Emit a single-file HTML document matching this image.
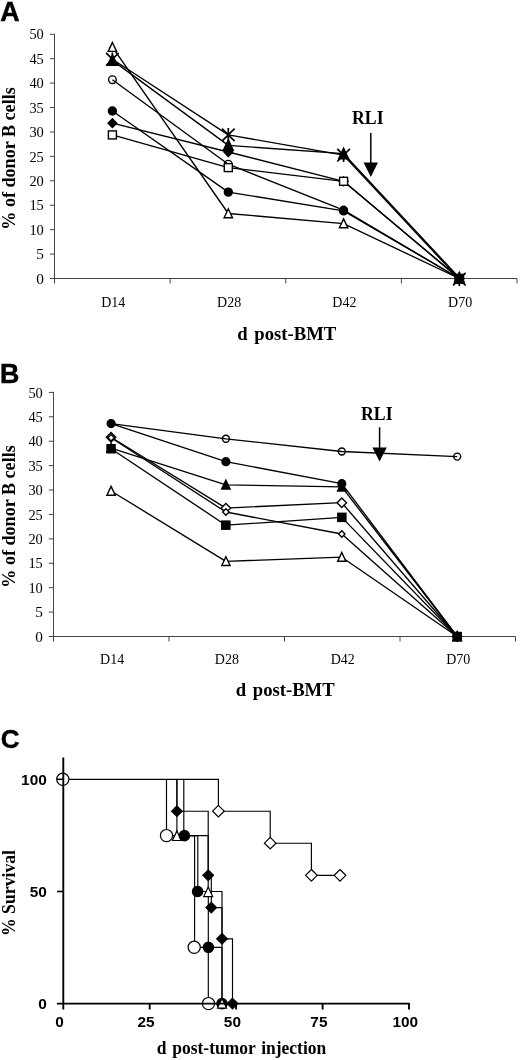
<!DOCTYPE html>
<html><head><meta charset="utf-8"><title>Figure</title>
<style>
html,body{margin:0;padding:0;background:#fff;}
body{width:520px;height:1060px;overflow:hidden;}
svg{display:block;}
</style></head>
<body>
<svg width="520" height="1060" viewBox="0 0 520 1060">
<rect width="520" height="1060" fill="#fff"/>
<g stroke="#444" stroke-width="1" fill="none">
<line x1="54.5" y1="33.8" x2="54.5" y2="283.5"/>
<line x1="49.8" y1="278.5" x2="517.0" y2="278.5"/>
<line x1="49.8" y1="254.08" x2="54.5" y2="254.08"/>
<line x1="49.8" y1="229.66" x2="54.5" y2="229.66"/>
<line x1="49.8" y1="205.24" x2="54.5" y2="205.24"/>
<line x1="49.8" y1="180.82" x2="54.5" y2="180.82"/>
<line x1="49.8" y1="156.40" x2="54.5" y2="156.40"/>
<line x1="49.8" y1="131.98" x2="54.5" y2="131.98"/>
<line x1="49.8" y1="107.56" x2="54.5" y2="107.56"/>
<line x1="49.8" y1="83.14" x2="54.5" y2="83.14"/>
<line x1="49.8" y1="58.72" x2="54.5" y2="58.72"/>
<line x1="49.8" y1="34.30" x2="54.5" y2="34.30"/>
<line x1="170.12" y1="278.5" x2="170.12" y2="283.5"/>
<line x1="285.75" y1="278.5" x2="285.75" y2="283.5"/>
<line x1="401.38" y1="278.5" x2="401.38" y2="283.5"/>
<line x1="517.00" y1="278.5" x2="517.00" y2="283.5"/>
</g>
<g font-family="'Liberation Serif',serif" font-size="15.3" fill="#000" text-anchor="end">
<text x="43.8" y="283.6">0</text>
<text x="43.8" y="259.2">5</text>
<text x="43.8" y="234.8" textLength="14.4" lengthAdjust="spacingAndGlyphs">10</text>
<text x="43.8" y="210.3" textLength="14.4" lengthAdjust="spacingAndGlyphs">15</text>
<text x="43.8" y="185.9" textLength="14.4" lengthAdjust="spacingAndGlyphs">20</text>
<text x="43.8" y="161.5" textLength="14.4" lengthAdjust="spacingAndGlyphs">25</text>
<text x="43.8" y="137.1" textLength="14.4" lengthAdjust="spacingAndGlyphs">30</text>
<text x="43.8" y="112.7" textLength="14.4" lengthAdjust="spacingAndGlyphs">35</text>
<text x="43.8" y="88.2" textLength="14.4" lengthAdjust="spacingAndGlyphs">40</text>
<text x="43.8" y="63.8" textLength="14.4" lengthAdjust="spacingAndGlyphs">45</text>
<text x="43.8" y="39.4" textLength="14.4" lengthAdjust="spacingAndGlyphs">50</text>
</g>
<g font-family="'Liberation Serif',serif" font-size="15.3" fill="#000" text-anchor="middle">
<text x="113.2" y="307" textLength="24.1" lengthAdjust="spacingAndGlyphs">D14</text>
<text x="229.1" y="307" textLength="24.1" lengthAdjust="spacingAndGlyphs">D28</text>
<text x="344.4" y="307" textLength="24.1" lengthAdjust="spacingAndGlyphs">D42</text>
<text x="460.1" y="307" textLength="24.1" lengthAdjust="spacingAndGlyphs">D70</text>
</g>
<text x="286.8" y="339.6" font-family="'Liberation Serif',serif" font-weight="bold" font-size="18.6" text-anchor="middle" textLength="99" lengthAdjust="spacingAndGlyphs" word-spacing="2">d post-BMT</text>
<text transform="translate(14.6,158.5) rotate(-90)" font-family="'Liberation Serif',serif" font-weight="bold" font-size="19" text-anchor="middle" textLength="142.5" lengthAdjust="spacingAndGlyphs">% of donor B cells</text>
<text x="0.2" y="20.6" font-family="'Liberation Sans',sans-serif" font-weight="bold" font-size="26.8" stroke="#000" stroke-width="0.5">A</text>
<g stroke="#000" stroke-width="1.35" fill="none" stroke-linejoin="round">
<polyline points="112.4,47.2 228.3,213.5 343.6,223.6 459.3,278.5"/>
<polyline points="112.4,79.7 228.3,164.2 343.6,210.1 459.3,278.5"/>
<polyline points="112.4,111.0 228.3,192.1 343.6,210.9 459.3,278.5"/>
<polyline points="112.4,123.2 228.3,152.0 343.6,181.3 459.3,278.5"/>
<polyline points="112.4,134.9 228.3,167.6 343.6,181.3 459.3,278.5"/>
<polyline points="112.4,60.4 228.3,145.4 343.6,153.7 459.3,277.8"/>
<polyline points="112.4,59.2 228.3,134.9 343.6,155.2 459.3,279.2"/>
</g>
<polygon points="112.4,42.5 116.6,51.4 108.2,51.4" fill="#fff" stroke="#000" stroke-width="1.4"/>
<polygon points="228.3,208.8 232.5,217.7 224.1,217.7" fill="#fff" stroke="#000" stroke-width="1.4"/>
<polygon points="343.6,218.9 347.8,227.8 339.4,227.8" fill="#fff" stroke="#000" stroke-width="1.4"/>
<polygon points="459.3,273.8 463.5,282.7 455.1,282.7" fill="#fff" stroke="#000" stroke-width="1.4"/>
<circle cx="112.4" cy="79.7" r="3.8" fill="none" stroke="#000" stroke-width="1.4"/>
<circle cx="228.3" cy="164.2" r="3.8" fill="none" stroke="#000" stroke-width="1.4"/>
<circle cx="343.6" cy="210.1" r="3.8" fill="none" stroke="#000" stroke-width="1.4"/>
<circle cx="459.3" cy="278.5" r="3.8" fill="none" stroke="#000" stroke-width="1.4"/>
<circle cx="112.4" cy="111.0" r="4.0" fill="#000" stroke="#000" stroke-width="1.4"/>
<circle cx="228.3" cy="192.1" r="4.0" fill="#000" stroke="#000" stroke-width="1.4"/>
<circle cx="343.6" cy="210.9" r="4.0" fill="#000" stroke="#000" stroke-width="1.4"/>
<circle cx="459.3" cy="278.5" r="4.0" fill="#000" stroke="#000" stroke-width="1.4"/>
<polygon points="112.4,118.8 116.8,123.2 112.4,127.5 108.1,123.2" fill="#000" stroke="#000" stroke-width="1.4"/>
<polygon points="228.3,147.7 232.7,152.0 228.3,156.4 224.0,152.0" fill="#000" stroke="#000" stroke-width="1.4"/>
<polygon points="343.6,177.0 348.0,181.3 343.6,185.7 339.2,181.3" fill="#000" stroke="#000" stroke-width="1.4"/>
<polygon points="459.3,274.1 463.7,278.5 459.3,282.9 454.9,278.5" fill="#000" stroke="#000" stroke-width="1.4"/>
<rect x="108.4" y="130.9" width="8.0" height="8.0" fill="#fff" stroke="#000" stroke-width="1.4"/>
<rect x="224.3" y="163.6" width="8.0" height="8.0" fill="#fff" stroke="#000" stroke-width="1.4"/>
<rect x="339.6" y="177.3" width="8.0" height="8.0" fill="#fff" stroke="#000" stroke-width="1.4"/>
<rect x="455.3" y="274.5" width="8.0" height="8.0" fill="#fff" stroke="#000" stroke-width="1.4"/>
<rect x="455.1" y="274.6" width="8.5" height="8.5" fill="#000" stroke="#000" stroke-width="1.3"/>
<polygon points="112.4,54.9 117.4,65.4 107.4,65.4" fill="#000" stroke="#000" stroke-width="1.4"/>
<polygon points="228.3,139.9 233.3,150.4 223.3,150.4" fill="#000" stroke="#000" stroke-width="1.4"/>
<polygon points="343.6,148.2 348.6,158.7 338.6,158.7" fill="#000" stroke="#000" stroke-width="1.4"/>
<polygon points="459.3,272.3 464.3,282.8 454.3,282.8" fill="#000" stroke="#000" stroke-width="1.4"/>
<path d="M106.1,52.9L118.7,65.5M106.1,65.5L118.7,52.9M112.4,52.4L112.4,66.0" fill="none" stroke="#000" stroke-width="1.7"/>
<path d="M222.0,128.6L234.6,141.2M222.0,141.2L234.6,128.6M228.3,128.1L228.3,141.7" fill="none" stroke="#000" stroke-width="1.7"/>
<path d="M337.3,148.9L349.9,161.5M337.3,161.5L349.9,148.9M343.6,148.4L343.6,162.0" fill="none" stroke="#000" stroke-width="1.7"/>
<path d="M453.0,272.9L465.6,285.5M453.0,285.5L465.6,272.9M459.3,272.4L459.3,286.0" fill="none" stroke="#000" stroke-width="1.7"/>
<text x="367.8" y="124.1" font-family="'Liberation Serif',serif" font-weight="bold" font-size="17.8" text-anchor="middle" textLength="31.5" lengthAdjust="spacingAndGlyphs">RLI</text>
<line x1="370.8" y1="133" x2="370.8" y2="163.6" stroke="#000" stroke-width="1.5"/>
<polygon points="363.6,162.6 378.0,162.6 370.8,177" fill="#000"/>
<g stroke="#444" stroke-width="1" fill="none">
<line x1="53.5" y1="391.9" x2="53.5" y2="641.5"/>
<line x1="48.8" y1="636.5" x2="515.5" y2="636.5"/>
<line x1="48.8" y1="612.09" x2="53.5" y2="612.09"/>
<line x1="48.8" y1="587.68" x2="53.5" y2="587.68"/>
<line x1="48.8" y1="563.27" x2="53.5" y2="563.27"/>
<line x1="48.8" y1="538.86" x2="53.5" y2="538.86"/>
<line x1="48.8" y1="514.45" x2="53.5" y2="514.45"/>
<line x1="48.8" y1="490.04" x2="53.5" y2="490.04"/>
<line x1="48.8" y1="465.63" x2="53.5" y2="465.63"/>
<line x1="48.8" y1="441.22" x2="53.5" y2="441.22"/>
<line x1="48.8" y1="416.81" x2="53.5" y2="416.81"/>
<line x1="48.8" y1="392.40" x2="53.5" y2="392.40"/>
<line x1="169.00" y1="636.5" x2="169.00" y2="641.5"/>
<line x1="284.50" y1="636.5" x2="284.50" y2="641.5"/>
<line x1="400.00" y1="636.5" x2="400.00" y2="641.5"/>
<line x1="515.50" y1="636.5" x2="515.50" y2="641.5"/>
</g>
<g font-family="'Liberation Serif',serif" font-size="15.3" fill="#000" text-anchor="end">
<text x="42.8" y="641.6">0</text>
<text x="42.8" y="617.2">5</text>
<text x="42.8" y="592.8" textLength="14.4" lengthAdjust="spacingAndGlyphs">10</text>
<text x="42.8" y="568.4" textLength="14.4" lengthAdjust="spacingAndGlyphs">15</text>
<text x="42.8" y="544.0" textLength="14.4" lengthAdjust="spacingAndGlyphs">20</text>
<text x="42.8" y="519.6" textLength="14.4" lengthAdjust="spacingAndGlyphs">25</text>
<text x="42.8" y="495.1" textLength="14.4" lengthAdjust="spacingAndGlyphs">30</text>
<text x="42.8" y="470.7" textLength="14.4" lengthAdjust="spacingAndGlyphs">35</text>
<text x="42.8" y="446.3" textLength="14.4" lengthAdjust="spacingAndGlyphs">40</text>
<text x="42.8" y="421.9" textLength="14.4" lengthAdjust="spacingAndGlyphs">45</text>
<text x="42.8" y="397.5" textLength="14.4" lengthAdjust="spacingAndGlyphs">50</text>
</g>
<g font-family="'Liberation Serif',serif" font-size="15.3" fill="#000" text-anchor="middle">
<text x="112.1" y="664.2" textLength="24.1" lengthAdjust="spacingAndGlyphs">D14</text>
<text x="226.9" y="664.2" textLength="24.1" lengthAdjust="spacingAndGlyphs">D28</text>
<text x="342.8" y="664.2" textLength="24.1" lengthAdjust="spacingAndGlyphs">D42</text>
<text x="458.2" y="664.2" textLength="24.1" lengthAdjust="spacingAndGlyphs">D70</text>
</g>
<text x="285.2" y="695.8" font-family="'Liberation Serif',serif" font-weight="bold" font-size="18.6" text-anchor="middle" textLength="99" lengthAdjust="spacingAndGlyphs" word-spacing="2">d post-BMT</text>
<text transform="translate(14.6,516.5) rotate(-90)" font-family="'Liberation Serif',serif" font-weight="bold" font-size="19" text-anchor="middle" textLength="142.5" lengthAdjust="spacingAndGlyphs">% of donor B cells</text>
<text x="0.0" y="383.1" font-family="'Liberation Sans',sans-serif" font-weight="bold" font-size="26.8" stroke="#000" stroke-width="0.5">B</text>
<g stroke="#000" stroke-width="1.35" fill="none" stroke-linejoin="round">
<polyline points="111.1,491.0 225.9,561.3 341.8,557.2 457.2,636.5"/>
<polyline points="111.1,437.3 225.9,508.1 341.8,502.7 457.2,636.5"/>
<polyline points="111.1,437.8 225.9,512.0 341.8,534.0 457.2,636.5"/>
<polyline points="111.1,448.1 225.9,484.9 341.8,486.9 457.2,636.5"/>
<polyline points="111.1,448.8 225.9,525.2 341.8,517.4 457.2,636.5"/>
<polyline points="111.1,423.6 225.9,438.8 341.8,451.5 457.2,456.6"/>
<polyline points="111.1,423.6 225.9,461.7 341.8,483.7 457.2,636.5"/>
</g>
<polygon points="111.1,486.4 115.2,495.2 106.9,495.2" fill="#fff" stroke="#000" stroke-width="1.4"/>
<polygon points="225.9,556.7 230.1,565.5 221.8,565.5" fill="#fff" stroke="#000" stroke-width="1.4"/>
<polygon points="341.8,552.5 345.9,561.3 337.7,561.3" fill="#fff" stroke="#000" stroke-width="1.4"/>
<polygon points="457.2,631.9 461.3,640.6 453.1,640.6" fill="#fff" stroke="#000" stroke-width="1.4"/>
<polygon points="111.1,432.6 115.8,437.3 111.1,442.0 106.4,437.3" fill="#fff" stroke="#000" stroke-width="1.4"/>
<polygon points="225.9,503.4 230.6,508.1 225.9,512.8 221.2,508.1" fill="#fff" stroke="#000" stroke-width="1.4"/>
<polygon points="341.8,498.0 346.5,502.7 341.8,507.4 337.1,502.7" fill="#fff" stroke="#000" stroke-width="1.4"/>
<polygon points="457.2,631.8 461.9,636.5 457.2,641.2 452.5,636.5" fill="#fff" stroke="#000" stroke-width="1.4"/>
<polygon points="111.1,434.6 114.3,437.8 111.1,441.0 107.9,437.8" fill="#fff" stroke="#000" stroke-width="1.4"/>
<polygon points="225.9,508.8 229.1,512.0 225.9,515.2 222.7,512.0" fill="#fff" stroke="#000" stroke-width="1.4"/>
<polygon points="341.8,530.8 345.0,534.0 341.8,537.2 338.6,534.0" fill="#fff" stroke="#000" stroke-width="1.4"/>
<polygon points="457.2,633.3 460.4,636.5 457.2,639.7 454.0,636.5" fill="#fff" stroke="#000" stroke-width="1.4"/>
<polygon points="111.1,443.4 115.3,452.3 106.9,452.3" fill="#000" stroke="#000" stroke-width="1.4"/>
<polygon points="225.9,480.2 230.1,489.1 221.7,489.1" fill="#000" stroke="#000" stroke-width="1.4"/>
<polygon points="341.8,482.2 346.0,491.1 337.6,491.1" fill="#000" stroke="#000" stroke-width="1.4"/>
<polygon points="457.2,631.8 461.4,640.7 453.0,640.7" fill="#000" stroke="#000" stroke-width="1.4"/>
<rect x="107.0" y="444.7" width="8.1" height="8.1" fill="#000" stroke="#000" stroke-width="1.4"/>
<rect x="221.8" y="521.1" width="8.1" height="8.1" fill="#000" stroke="#000" stroke-width="1.4"/>
<rect x="337.8" y="513.3" width="8.1" height="8.1" fill="#000" stroke="#000" stroke-width="1.4"/>
<rect x="453.1" y="632.5" width="8.1" height="8.1" fill="#000" stroke="#000" stroke-width="1.4"/>
<circle cx="111.1" cy="423.6" r="3.5" fill="none" stroke="#000" stroke-width="1.4"/>
<circle cx="225.9" cy="438.8" r="3.5" fill="none" stroke="#000" stroke-width="1.4"/>
<circle cx="341.8" cy="451.5" r="3.5" fill="none" stroke="#000" stroke-width="1.4"/>
<circle cx="457.2" cy="456.6" r="3.5" fill="none" stroke="#000" stroke-width="1.4"/>
<circle cx="111.1" cy="423.6" r="3.9" fill="#000" stroke="#000" stroke-width="1.4"/>
<circle cx="225.9" cy="461.7" r="3.9" fill="#000" stroke="#000" stroke-width="1.4"/>
<circle cx="341.8" cy="483.7" r="3.9" fill="#000" stroke="#000" stroke-width="1.4"/>
<circle cx="457.2" cy="636.5" r="3.9" fill="#000" stroke="#000" stroke-width="1.4"/>
<text x="376.8" y="420.3" font-family="'Liberation Serif',serif" font-weight="bold" font-size="17.8" text-anchor="middle" textLength="31.5" lengthAdjust="spacingAndGlyphs">RLI</text>
<line x1="379.6" y1="427.3" x2="379.6" y2="448.5" stroke="#000" stroke-width="1.5"/>
<polygon points="372.40000000000003,447.5 386.8,447.5 379.6,461.5" fill="#000"/>
<g stroke="#000" stroke-width="1.15" fill="none">
<path d="M166.5,779.3H166.5V835.6H194.6V947.3H208.3V1003.6"/>
<path d="M176.9,779.3H176.9V835.6H208.2V891.5H222.0V1003.6"/>
<path d="M183.8,779.3H183.8V835.6H197.8V891.5H208.3V947.3H222.0V1003.6"/>
<path d="M176.9,779.3H176.9V811.2H208.2V875.3H211.3V907.6H222.0V938.8H232.5V1003.6"/>
<path d="M62.8,779.3H218.4V811.2H270.2V843.2H311.4V875.3H340.0V875.3"/>
</g>
<g font-family="'Liberation Sans',sans-serif" font-weight="bold" font-size="15.4" fill="#000">
<text x="46.8" y="1009.4" text-anchor="end">0</text>
<text x="46.8" y="897.2" text-anchor="end">50</text>
<text x="46.8" y="785.1" text-anchor="end">100</text>
<text x="59.6" y="1027.0" text-anchor="middle">0</text>
<text x="146.0" y="1027.0" text-anchor="middle">25</text>
<text x="232.4" y="1027.0" text-anchor="middle">50</text>
<text x="318.9" y="1027.0" text-anchor="middle">75</text>
<text x="405.3" y="1027.0" text-anchor="middle">100</text>
</g>
<text x="241.5" y="1053.6" font-family="'Liberation Serif',serif" font-weight="bold" font-size="18.4" text-anchor="middle" textLength="169.5" lengthAdjust="spacingAndGlyphs" word-spacing="1.5">d post-tumor injection</text>
<text transform="translate(14.8,893) rotate(-90)" font-family="'Liberation Serif',serif" font-weight="bold" font-size="19" text-anchor="middle" textLength="86" lengthAdjust="spacingAndGlyphs">% Survival</text>
<text x="0.7" y="748.3" font-family="'Liberation Sans',sans-serif" font-weight="bold" font-size="26" stroke="#000" stroke-width="0.4">C</text>
<circle cx="62.8" cy="779.3" r="6.1" fill="#fff" stroke="#000" stroke-width="1.2"/>
<circle cx="166.5" cy="835.6" r="6.1" fill="#fff" stroke="#000" stroke-width="1.2"/>
<polygon points="176.9,805.9 182.2,811.2 176.9,816.5 171.6,811.2" fill="#000" stroke="#000" stroke-width="1.2"/>
<polygon points="176.9,831.0 181.4,840.5 172.4,840.5" fill="#fff" stroke="#000" stroke-width="1.2"/>
<circle cx="184.4" cy="835.6" r="5.2" fill="#000" stroke="#000" stroke-width="1.2"/>
<circle cx="194.2" cy="947.3" r="6.1" fill="#fff" stroke="#000" stroke-width="1.2"/>
<circle cx="197.6" cy="891.5" r="5.2" fill="#000" stroke="#000" stroke-width="1.2"/>
<circle cx="208.5" cy="1003.6" r="6.1" fill="#fff" stroke="#000" stroke-width="1.2"/>
<polygon points="208.2,870.0 213.5,875.3 208.2,880.6 202.9,875.3" fill="#000" stroke="#000" stroke-width="1.2"/>
<circle cx="208.4" cy="947.3" r="5.2" fill="#000" stroke="#000" stroke-width="1.2"/>
<polygon points="208.2,887.1 212.7,896.6 203.7,896.6" fill="#fff" stroke="#000" stroke-width="1.2"/>
<polygon points="211.3,902.3 216.6,907.6 211.3,912.9 206.0,907.6" fill="#000" stroke="#000" stroke-width="1.2"/>
<polygon points="218.4,805.4 224.2,811.2 218.4,817.0 212.6,811.2" fill="#fff" stroke="#000" stroke-width="1.2"/>
<polygon points="222.0,933.5 227.3,938.8 222.0,944.1 216.7,938.8" fill="#000" stroke="#000" stroke-width="1.2"/>
<circle cx="222.0" cy="1003.6" r="5.2" fill="#000" stroke="#000" stroke-width="1.2"/>
<polygon points="222.0,998.6 226.5,1008.1 217.5,1008.1" fill="#fff" stroke="#000" stroke-width="1.2"/>
<polygon points="232.5,998.3 237.8,1003.6 232.5,1008.9 227.2,1003.6" fill="#000" stroke="#000" stroke-width="1.2"/>
<polygon points="270.2,837.4 276.0,843.2 270.2,849.0 264.4,843.2" fill="#fff" stroke="#000" stroke-width="1.2"/>
<polygon points="311.4,869.5 317.2,875.3 311.4,881.1 305.6,875.3" fill="#fff" stroke="#000" stroke-width="1.2"/>
<polygon points="340.0,869.5 345.8,875.3 340.0,881.1 334.2,875.3" fill="#fff" stroke="#000" stroke-width="1.2"/>
<g stroke="#000" stroke-width="1.9" fill="none">
<line x1="63.3" y1="757.5" x2="63.3" y2="1009.5"/>
<line x1="56.9" y1="1003.6" x2="409.9" y2="1003.6"/>
<line x1="57" y1="891.5" x2="63.3" y2="891.5" stroke-width="1.6"/>
<line x1="57" y1="779.3" x2="63.3" y2="779.3" stroke-width="1.6"/>
<line x1="149.7" y1="1003.6" x2="149.7" y2="1009.5"/>
<line x1="236.1" y1="1003.6" x2="236.1" y2="1009.5"/>
<line x1="322.6" y1="1003.6" x2="322.6" y2="1009.5"/>
<line x1="409.0" y1="1003.6" x2="409.0" y2="1009.5"/>
</g>
</svg>
</body></html>
